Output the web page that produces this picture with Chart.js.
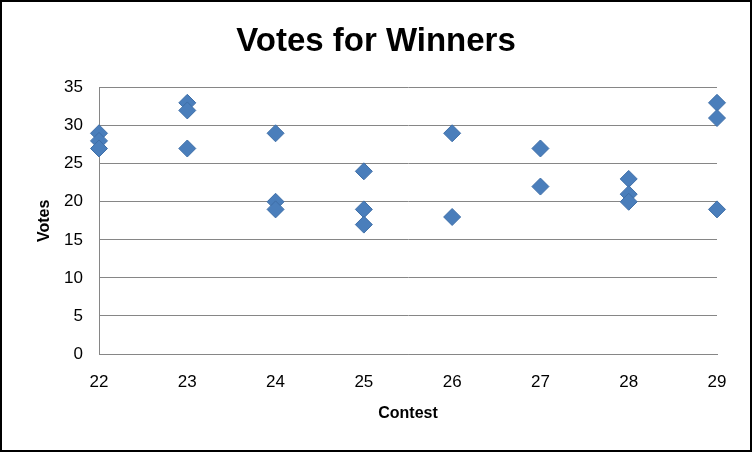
<!DOCTYPE html>
<html>
<head>
<meta charset="utf-8">
<script src="https://cdn.jsdelivr.net/npm/chart.js@4/dist/chart.umd.min.js"></script>
<style>
html,body{margin:0;padding:0;background:#fff;}
#wrap{width:752px;height:452px;position:relative;}
</style>
</head>
<body>
<div id="wrap"><canvas id="c" width="752" height="452"></canvas></div>
<script>
const contests = [22,22,22, 23,23,23, 24,24,24, 25,25,25, 26,26, 27,27, 28,28,28, 29,29,29];
const votes    = [29,28,27, 33,32,27, 29,20,19, 24,19,17, 29,18, 27,22, 23,21,20, 33,31,19];
const xTicks = [22,23,24,25,26,27,28,29];
const yTicks = [0,5,10,15,20,25,30,35];

const points = contests.map((c,i)=>({x:c,y:votes[i]}));
const font = "'Liberation Sans', Arial, sans-serif";

const borderPlugin = {
  id:'frame',
  afterDraw(chart){
    const ctx = chart.ctx;
    ctx.save();
    ctx.strokeStyle = '#000';
    ctx.lineWidth = 2;
    ctx.strokeRect(1,1,chart.width-2,chart.height-2);
    ctx.restore();
  }
};

new Chart(document.getElementById('c'), {
  type:'scatter',
  data:{datasets:[{
    label:'Votes',
    data:points,
    clip:false,
    pointStyle:'rectRot',
    pointRadius:8.5,
    pointHoverRadius:8.5,
    backgroundColor:'#4A7EBB',
    borderColor:'#3F6FA8',
    borderWidth:1
  }]},
  options:{
    responsive:false,
    animation:false,
    events:[],
    layout:{padding:0},
    plugins:{
      legend:{display:false},
      tooltip:{enabled:false},
      title:{display:true,text:'Votes for Winners',color:'#000',
        font:{family:font,size:33,weight:'bold'},padding:{top:22,bottom:26}}
    },
    scales:{
      x:{
        type:'linear',min:xTicks[0],max:xTicks[xTicks.length-1],
        afterBuildTicks(s){s.ticks = xTicks.map(v=>({value:v}));},
        afterFit(s){s.height = 98;},
        grid:{display:false,drawTicks:false},
        border:{display:true,color:'#868686',width:1},
        ticks:{color:'#000',font:{family:font,size:17},padding:18},
        title:{display:true,text:'Contest',color:'#000',font:{family:font,size:16,weight:'bold'},padding:{top:0,bottom:29}}
      },
      y:{
        min:yTicks[0],max:yTicks[yTicks.length-1],
        afterBuildTicks(s){s.ticks = yTicks.map(v=>({value:v}));},
        afterFit(s){s.width = 99;},
        grid:{color:'#868686',drawTicks:false,lineWidth:1},
        border:{display:true,color:'#868686',width:1},
        ticks:{color:'#000',font:{family:font,size:17},padding:16},
        title:{display:true,text:'Votes',color:'#000',font:{family:font,size:16,weight:'bold'},padding:{top:35,bottom:0}}
      },
      yRight:{
        position:'right',
        min:yTicks[0],max:yTicks[yTicks.length-1],
        afterFit(s){s.width = 35;},
        grid:{display:false,drawTicks:false},
        border:{display:false},
        ticks:{display:false}
      }
    }
  },
  plugins:[borderPlugin]
});
</script>
</body>
</html>
